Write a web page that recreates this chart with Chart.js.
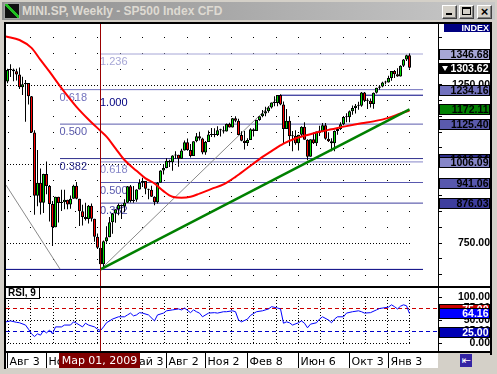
<!DOCTYPE html>
<html lang="ru">
<head>
<meta charset="utf-8">
<title>MINI.SP, Weekly - SP500 Index CFD</title>
<script src="https://cdn.jsdelivr.net/npm/chart.js@4.4.1/dist/chart.umd.min.js"></script>
<style>
  html, body { margin: 0; padding: 0; }
  body { width: 497px; height: 374px; position: relative; overflow: hidden; background: #d4d0c8; font-family: "Liberation Sans", Arial, sans-serif; }
  .abs { position: absolute; }
  .line { background: #000; }
  #caption { left: 2px; top: 2px; width: 493px; height: 18px; background: linear-gradient(90deg, #8e8e8e, #c8c8c8); }
  #caption-text { left: 20px; top: 2px; font: bold 12px "Liberation Sans", Arial, sans-serif; line-height: 15px; color: #dedad2; white-space: nowrap; }
  #icon { left: 2px; top: 1px; width: 14px; height: 14px; border: 1px solid #a0a0a0; background: linear-gradient(to top right, #101010 44%, #22c022 44%, #22c022 58%, #101010 58%); }
  .btn { top: 5px; width: 13px; height: 12px; background: #d4d0c8; border: 1px solid; border-color: #fff #404040 #404040 #fff; box-shadow: inset -1px -1px #808080; }
  #rsiTag { left: 6px; top: 288px; width: 31px; height: 10px; padding-left: 2px; background: #fff; border-right: 1px solid #000; border-bottom: 1px solid #000; font: bold 10px "Liberation Sans", Arial, sans-serif; line-height: 10px; color: #000; }
  #indexTag { left: 444px; top: 24px; width: 45px; height: 8px; padding-right: 1px; background: #000080; color: #fff; font: bold 9px "Liberation Sans", Arial, sans-serif; line-height: 8px; text-align: right; }
  #navBtn { left: 460px; top: 354px; width: 12px; height: 13px; background: #3424a4; color: #fff; font: 11px "DejaVu Sans", sans-serif; line-height: 13px; text-align: center; }
</style>
</head>
<body>
<div id="caption" class="abs">
  <div id="icon" class="abs"></div>
  <div id="caption-text" class="abs">MINI.SP, Weekly - SP500 Index CFD</div>
</div>
<div class="abs btn" style="left:442px"><div class="abs" style="left:3px;top:7px;width:6px;height:2px;background:#000"></div></div>
<div class="abs btn" style="left:459px"><div class="abs" style="left:2px;top:1px;width:7px;height:5px;border:1px solid #000;border-top-width:2px"></div></div>
<div class="abs btn" style="left:477px;font:bold 13px 'Liberation Sans',Arial,sans-serif;line-height:11px;text-align:center">&times;</div>

<div class="abs" style="left:6px;top:24px;width:484px;height:329px;background:#fff"></div>
<div class="abs" style="left:6px;top:353px;width:432px;height:15px;background:#fff"></div>

<canvas id="priceChart" class="abs" width="490" height="262" style="left:0;top:24px"></canvas>
<canvas id="rsiChart" class="abs" width="490" height="80" style="left:0;top:288px"></canvas>

<div class="abs line" style="left:4px;top:22px;width:488px;height:2px"></div>
<div class="abs line" style="left:4px;top:22px;width:2px;height:347px"></div>
<div class="abs line" style="left:490px;top:22px;width:2px;height:333px"></div>
<div class="abs line" style="left:6px;top:286px;width:484px;height:2px"></div>
<div class="abs line" style="left:6px;top:351px;width:484px;height:2px"></div>

<div id="rsiTag" class="abs">RSI, 9</div>
<div id="indexTag" class="abs">INDEX</div>
<div id="navBtn" class="abs">&#8676;</div>

<script>
// weekly bars, bar 0 = week of 3 Aug 2008, last bar = week of 20 Feb 2011
const opens = [
  1260, 1296, 1298, 1292, 1282, 1242, 1251, 1255, 1213, 1099,
  899, 940, 877, 968, 930, 873, 800, 896, 876, 879,
  887, 872, 890, 931, 890, 850, 832, 826, 868, 827,
  770, 735, 683, 756, 768, 816, 843, 857, 870, 866,
  877, 929, 883, 887, 919, 940, 946, 921, 918, 896,
  879, 940, 979, 987, 1010, 1005, 1026, 1029, 1016, 1042,
  1068, 1044, 1025, 1071, 1087, 1080, 1036, 1069, 1093, 1091,
  1091, 1106, 1106, 1102, 1126, 1115, 1144, 1136, 1091, 1073,
  1066, 1075, 1109, 1104, 1138, 1150, 1159, 1166, 1178, 1194,
  1192, 1217, 1187, 1110, 1136, 1087, 1089, 1065, 1092, 1117,
  1076, 1022, 1078, 1065, 1102, 1102, 1122, 1079, 1071, 1065,
  1104, 1110, 1125, 1148, 1147, 1166, 1176, 1183, 1183, 1225,
  1199, 1199, 1189, 1224, 1240, 1244, 1257, 1257, 1271, 1293,
  1283, 1276, 1310, 1329, 1343
];
const highs = [
  1300, 1314, 1301, 1300, 1304, 1275, 1265, 1255, 1214, 1106,
  1044, 985, 969, 1007, 933, 883, 896, 896, 918, 918,
  887, 900, 934, 943, 890, 871, 877, 870, 875, 827,
  780, 740, 758, 803, 832, 845, 857, 875, 872, 888,
  930, 933, 930, 920, 951, 956, 946, 921, 931, 898,
  943, 980, 996, 1018, 1013, 1027, 1040, 1029, 1048, 1074,
  1080, 1063, 1071, 1097, 1101, 1082, 1072, 1105, 1113, 1112,
  1119, 1111, 1119, 1127, 1130, 1145, 1150, 1142, 1103, 1104,
  1081, 1112, 1112, 1139, 1150, 1170, 1180, 1182, 1194, 1213,
  1217, 1219.8, 1197, 1173, 1150, 1104, 1106, 1092, 1119, 1131,
  1078, 1078, 1099, 1102, 1120, 1129, 1129, 1100, 1081, 1105,
  1111, 1131, 1148, 1160, 1168, 1184, 1189, 1196, 1227, 1227,
  1207, 1206, 1225, 1240, 1247, 1259, 1262, 1278, 1293, 1296,
  1302, 1311, 1331, 1344, 1346.68
];
const lows = [
  1254, 1274, 1261, 1263, 1236, 1217, 1133, 1187, 1097, 839,
  866, 840, 845, 904, 818, 741, 800, 815, 851, 857,
  857, 858, 890, 888, 804, 805, 821, 812, 818, 754,
  731, 666.79, 672, 751, 768, 779, 814, 838, 826, 847,
  876, 878, 877, 880, 919, 927, 904, 888, 895, 869,
  875, 940, 966, 986, 990, 978, 1016, 991, 1016, 1042,
  1041, 1020, 1025, 1068, 1074, 1030, 1029, 1069, 1085, 1084,
  1088, 1086, 1096, 1102, 1115, 1115, 1131, 1090, 1071, 1045,
  1056, 1075, 1086, 1104, 1136, 1147, 1150, 1161, 1175, 1182,
  1182, 1185, 1065, 1110, 1056, 1040, 1060, 1042, 1088, 1076,
  1011, 1022, 1063, 1056, 1088, 1100, 1076, 1069, 1040, 1040,
  1092, 1107, 1122, 1131, 1131, 1155, 1159, 1171, 1180, 1195,
  1173, 1178, 1174, 1222, 1234, 1242, 1251, 1257, 1262, 1271,
  1275, 1276, 1306, 1325, 1300
];
const closes = [
  1296, 1298, 1292, 1282, 1242, 1251, 1255, 1213, 1099, 899,
  940, 877, 968, 930, 873, 800, 896, 876, 879, 887,
  872, 890, 931, 890, 850, 832, 826, 868, 827, 770,
  735, 683, 756, 768, 816, 843, 857, 870, 866, 877,
  929, 883, 887, 919, 940, 946, 921, 918, 896, 879,
  940, 979, 987, 1010, 1005, 1026, 1029, 1016, 1042, 1068,
  1044, 1025, 1071, 1087, 1080, 1036, 1069, 1093, 1091, 1091,
  1106, 1106, 1102, 1126, 1115, 1144, 1136, 1091, 1073, 1066,
  1075, 1109, 1104, 1138, 1150, 1159, 1166, 1178, 1194, 1192,
  1217, 1187, 1110, 1136, 1087, 1089, 1065, 1092, 1117, 1076,
  1022, 1078, 1065, 1102, 1102, 1122, 1079, 1071, 1065, 1104,
  1110, 1125, 1148, 1147, 1166, 1176, 1183, 1183, 1225, 1199,
  1199, 1189, 1224, 1240, 1244, 1257, 1257, 1271, 1293, 1283,
  1276, 1310, 1329, 1343, 1303.62
];

// red moving average
const maBars = [-0.5, 4, 8, 11, 14, 18, 23, 27, 31, 33, 36, 39, 43, 46, 49, 52, 55, 58, 61, 64, 68, 72, 76, 80, 84, 88, 92, 96, 100, 104, 108, 113, 118, 122, 127, 131, 134];
const maValues = [1402, 1391, 1366, 1328, 1291, 1239, 1180, 1140, 1104, 1086, 1049, 1012, 978, 954, 938, 914, 896, 893, 896, 906, 921, 935, 959, 987, 1015, 1040, 1064, 1080, 1091, 1101, 1109, 1119, 1128, 1134, 1145, 1159, 1168];

// RSI(9)
const rsiBars = [-0.5, 1, 3, 4, 6, 7, 8, 9, 10, 11, 12, 13, 14, 15, 16, 18, 19, 21, 22, 23, 25, 26, 27, 29, 30, 31, 32, 33, 35, 37, 39, 40, 41, 42, 43, 44, 45, 47, 49, 50, 52, 53, 55, 57, 58, 59, 61, 62, 63, 64, 65, 67, 69, 70, 72, 73, 75, 76, 77, 78, 80, 81, 83, 85, 87, 88, 90, 91, 92, 93, 94, 95, 97, 98, 99, 100, 101, 103, 104, 105, 107, 108, 109, 110, 112, 113, 115, 117, 118, 119, 121, 123, 124, 127, 128, 129, 130, 131, 132, 133, 134];
const rsiValues = [46, 48, 45, 44, 39, 30, 20, 14, 20, 17, 27, 22, 28, 20, 35, 35, 39, 39, 46, 43, 35, 43, 39, 35, 30, 27, 35, 44, 52, 57, 57, 61, 65, 59, 61, 66, 65, 61, 48, 61, 65, 70, 72, 74, 72, 76, 66, 72, 68, 65, 57, 65, 66, 65, 68, 68, 70, 68, 50, 46, 52, 60, 68, 70, 74, 79, 76, 74, 43, 46, 44, 39, 44, 48, 43, 33, 41, 44, 52, 57, 50, 44, 52, 57, 57, 65, 68, 70, 68, 65, 66, 72, 75, 78, 83, 79, 74, 80, 83, 81, 64.16];

// trend line and fibonacci objects
const trendBars = [31, 134];
const trendValues = [666.79, 1172.11];
const fanBars = [31, 91];
const fanValues = [666.79, 1216.6];
const retraceBars = [-0.5, 17.5];
const retraceValues = [933, 668];

const fibUpNames = ['1.236', '1.000', '0.618', '0.500', '0.382'];
const fibUpLevels = [1346.68, 1216.6, 1006.09, 941.06, 876.03];
const fibUpStart = [31, 91, 31, 31, 31];
const fibDownNames = ['0.618', '0.500', '0.382'];
const fibDownLevels = [1234.16, 1125.40, 1016.64];
const fibDownStart = 17.5;
const fibEnd = 138.5;
const lowLevel = 666.79;

const priceTicks = [650, 700, 750, 800, 850, 900, 950, 1000, 1050, 1100, 1150, 1200, 1250, 1300, 1350, 1400];
const priceLabelTicks = [750, 1000, 1250];
const rsiTicks = [0, 25, 50, 75, 100];
const rsiLevels = [75, 25];

const timeLabelBars = [0, 13, 27, 40, 53, 66, 80, 97, 114, 127];
const timeLabels = ['Авг 3', 'Ноя 2', 'Фев 1', 'Май 3', 'Авг 2', 'Ноя 2', 'Фев 8', 'Июн 6', 'Окт 3', 'Янв 3'];
const cursorBar = 31;
const cursorLabel = 'Мар 01, 2009';

// look
const X_MIN = -0.5, X_MAX = 143.5;      // 3 px per weekly bar
const GRID_START = 0.23, GRID_STEP = 7.43;
const UP = '#00e000', DOWN = '#ff0000';
const fibUpColors = ['#a6a6d6', '#000080', '#8686c8', '#5858ae', '#3e3e9e'];
const fibDownColors = ['#7272be', '#5a5aac', '#2e2e8c'];
const AXIS_FONT = { family: 'Liberation Sans', size: 10.5, weight: 'bold' };
const TAG_FONT = 'bold 10.5px "Liberation Sans"';
const lastBar = closes.length - 1;

const pts = (bars, values) => bars.map((b, k) => ({ x: b, y: values[k] }));
const hline = (from, to, level) => [{ x: from, y: level }, { x: to, y: level }];
const plain = { type: 'line', pointRadius: 0, borderWidth: 1, fill: false };

function dotColumns(x, lastPx) {
  const cols = [];
  for (let k = 0; ; k++) {
    const px = Math.round(x.getPixelForValue(GRID_START + k * GRID_STEP));
    if (px > lastPx) break;
    cols.push(px);
  }
  return cols;
}

function drawTag(ctx, left, cy, fill, textColor, text, arrow) {
  const top = Math.round(cy) - 5;
  ctx.fillStyle = fill;
  ctx.fillRect(left + 1, top, 51, 11);
  ctx.strokeStyle = '#000';
  ctx.lineWidth = 1;
  ctx.strokeRect(left + 1.5, top + 0.5, 50, 10);
  ctx.fillStyle = textColor;
  ctx.font = TAG_FONT;
  ctx.textAlign = 'right';
  ctx.textBaseline = 'middle';
  ctx.fillText(text, left + 50.5, top + 6);
  if (arrow) {
    ctx.beginPath();
    ctx.moveTo(left + 4, top + 3);
    ctx.lineTo(left + 10, top + 3);
    ctx.lineTo(left + 7, top + 8);
    ctx.closePath();
    ctx.fill();
  }
}

function drawCursor(chart) {
  const { ctx, chartArea, scales: { x } } = chart;
  const px = Math.floor(x.getPixelForValue(cursorBar)) + 0.5;
  ctx.save();
  ctx.strokeStyle = '#9a0000';
  ctx.lineWidth = 1;
  ctx.beginPath();
  ctx.moveTo(px, chartArea.top);
  ctx.lineTo(px, chartArea.bottom);
  ctx.stroke();
  ctx.restore();
}

const priceDecor = {
  id: 'priceDecor',
  beforeDatasetsDraw(chart) {
    const { ctx, chartArea, scales: { x, y } } = chart;
    const lastPx = x.getPixelForValue(lastBar);
    const cols = dotColumns(x, lastPx);
    ctx.save();
    ctx.fillStyle = '#000';
    priceTicks.forEach(v => {
      const py = Math.round(y.getPixelForValue(v));
      if (priceLabelTicks.includes(v)) {
        for (let px = chartArea.left + 1; px <= lastPx + 1; px += 3) ctx.fillRect(px, py, 1, 1);
      } else {
        cols.forEach(px => ctx.fillRect(px, py, 1, 1));
      }
    });
    ctx.font = '11px "Liberation Sans"';
    ctx.textAlign = 'left';
    ctx.textBaseline = 'alphabetic';
    fibDownNames.forEach((name, k) => {
      ctx.fillStyle = fibDownColors[k];
      ctx.fillText(name, x.getPixelForValue(fibDownStart) - 0.5, Math.round(y.getPixelForValue(fibDownLevels[k])) + 11);
    });
    fibUpNames.forEach((name, k) => {
      ctx.fillStyle = fibUpColors[k];
      ctx.fillText(name, x.getPixelForValue(cursorBar) - 0.5, Math.round(y.getPixelForValue(fibUpLevels[k])) + 11);
    });
    ctx.restore();
  },
  afterDatasetsDraw(chart) {
    drawCursor(chart);
  },
  afterDraw(chart) {
    const { ctx, scales: { y } } = chart;
    const tags = [
      [fibUpLevels[0], fibUpColors[0], '#000', false],
      [closes[lastBar], '#000', '#fff', true],
      [fibDownLevels[0], fibDownColors[0], '#000', false],
      [trendValues[1], '#008000', '#000', false],
      [fibDownLevels[1], fibDownColors[1], '#000', false],
      [fibDownLevels[2], fibDownColors[2], '#000', false],
      [fibUpLevels[2], fibUpColors[2], '#000', false],
      [fibUpLevels[3], fibUpColors[3], '#000', false],
      [fibUpLevels[4], fibUpColors[4], '#000', false]
    ];
    ctx.save();
    tags.forEach(([v, fill, tc, arrow]) => drawTag(ctx, y.left, y.getPixelForValue(v), fill, tc, v.toFixed(2), arrow));
    ctx.restore();
  }
};

const rsiDecor = {
  id: 'rsiDecor',
  beforeDatasetsDraw(chart) {
    const { ctx, chartArea, scales: { x, y } } = chart;
    const lastPx = x.getPixelForValue(lastBar);
    ctx.save();
    ctx.fillStyle = '#000';
    [100, 50, 0].forEach(v => {
      const py = Math.round(y.getPixelForValue(v));
      for (let px = chartArea.left + 1; px <= lastPx + 1; px += 3) ctx.fillRect(px, py, 1, 1);
    });
    const top = Math.round(y.getPixelForValue(100));
    const bottom = Math.round(y.getPixelForValue(0));
    dotColumns(x, lastPx).forEach(px => {
      for (let py = top; py <= bottom; py += 3) ctx.fillRect(px, py, 1, 1);
    });
    ctx.restore();
  },
  afterDatasetsDraw(chart) {
    drawCursor(chart);
  },
  afterDraw(chart) {
    const { ctx, scales: { x, y } } = chart;
    ctx.save();
    drawTag(ctx, y.left, y.getPixelForValue(75), '#c80000', '#fff', '75.00', false);
    drawTag(ctx, y.left, y.getPixelForValue(25), '#0000b4', '#fff', '25.00', false);
    const last = rsiValues[rsiValues.length - 1];
    drawTag(ctx, y.left, y.getPixelForValue(last), '#0000ff', '#fff', last.toFixed(2), false);
    // cursor date box on the time axis
    const cx = Math.floor(x.getPixelForValue(cursorBar)) + 0.5;
    ctx.fillStyle = '#800000';
    ctx.fillRect(cx - 41.5, x.top + 2, 81, 15);
    ctx.fillStyle = '#fff';
    ctx.font = '11px "DejaVu Sans"';
    ctx.textAlign = 'center';
    ctx.textBaseline = 'middle';
    ctx.fillText(cursorLabel, cx - 1, x.top + 10);
    ctx.restore();
  }
};

const baseOptions = {
  responsive: false,
  animation: false,
  events: [],
  devicePixelRatio: 1,
  layout: { padding: { left: 6, right: 0, top: 0, bottom: 0 } },
  plugins: { legend: { display: false }, tooltip: { enabled: false } }
};

new Chart(document.getElementById('priceChart'), {
  type: 'bar',
  data: {
    datasets: [
      { ...plain, data: pts(trendBars, trendValues), borderColor: '#008000', borderWidth: 2.5, order: 0 },
      { ...plain, data: pts(maBars, maValues), borderColor: '#ff0000', borderWidth: 2, cubicInterpolationMode: 'monotone', order: 1 },
      {
        type: 'bar',
        data: closes.map((c, i) => ({ x: i, y: [opens[i], c] })),
        backgroundColor: closes.map((c, i) => (c >= opens[i] ? UP : DOWN)),
        borderColor: '#000', borderWidth: 1, borderSkipped: false,
        barThickness: 3, grouped: false, inflateAmount: 0, minBarLength: 1, order: 4
      },
      {
        type: 'bar',
        data: highs.map((h, i) => ({ x: i, y: [lows[i], h] })),
        backgroundColor: '#000', borderWidth: 0,
        barThickness: 1, grouped: false, inflateAmount: 0, order: 5
      },
      { ...plain, data: pts(fanBars, fanValues), borderColor: '#8a8a8a', order: 6 },
      { ...plain, data: pts(retraceBars, retraceValues), borderColor: '#8a8a8a', order: 6 },
      ...fibUpLevels.map((lv, k) => ({ ...plain, data: hline(fibUpStart[k], fibEnd, lv), borderColor: fibUpColors[k], order: 7 })),
      ...fibDownLevels.map((lv, k) => ({ ...plain, data: hline(fibDownStart, fibEnd, lv), borderColor: fibDownColors[k], order: 7 })),
      { ...plain, data: hline(X_MIN, fibEnd, lowLevel), borderColor: '#000080', order: 7 }
    ]
  },
  options: {
    ...baseOptions,
    scales: {
      x: { type: 'linear', min: X_MIN, max: X_MAX, offset: false, grid: { offset: false }, display: false },
      y: {
        type: 'linear', position: 'right', min: 614.4, max: 1441.4,
        afterBuildTicks: s => { s.ticks = priceTicks.map(value => ({ value })); },
        afterFit: s => { s.width = 52; s.paddingTop = 0; s.paddingBottom = 0; },
        grid: { drawOnChartArea: false, drawTicks: true, tickLength: 4, color: '#000' },
        border: { display: true, color: '#000', width: 1 },
        ticks: {
          color: '#000', font: AXIS_FONT, crossAlign: 'far', padding: 8, autoSkip: false,
          callback: v => (priceLabelTicks.includes(v) ? v.toFixed(2) : '')
        }
      }
    }
  },
  plugins: [priceDecor]
});

new Chart(document.getElementById('rsiChart'), {
  type: 'line',
  data: {
    datasets: [
      { ...plain, data: pts(rsiBars, rsiValues), borderColor: '#0000ff', order: 0 },
      { ...plain, data: hline(X_MIN, X_MAX, rsiLevels[0]), borderColor: '#cc0000', borderDash: [4, 3], order: 1 },
      { ...plain, data: hline(X_MIN, X_MAX, rsiLevels[1]), borderColor: '#0000cc', borderDash: [4, 3], order: 1 }
    ]
  },
  options: {
    ...baseOptions,
    scales: {
      x: {
        type: 'linear', position: 'bottom', min: X_MIN, max: X_MAX, offset: false,
        afterBuildTicks: s => { s.ticks = timeLabelBars.map(value => ({ value })); },
        afterFit: s => { s.height = 17; s.paddingLeft = 0; s.paddingRight = 0; },
        grid: { drawOnChartArea: false, drawTicks: true, tickLength: 17, color: '#000', offset: false },
        border: { display: false },
        ticks: {
          autoSkip: false, maxRotation: 0, minRotation: 0, align: 'start', labelOffset: 2, padding: -12,
          color: '#000', font: { family: 'DejaVu Sans', size: 11 },
          callback: v => { const k = timeLabelBars.indexOf(v); return k < 0 ? '' : timeLabels[k]; }
        }
      },
      y: {
        type: 'linear', position: 'right', min: -17.39, max: 119.57,
        afterBuildTicks: s => { s.ticks = rsiTicks.map(value => ({ value })); },
        afterFit: s => { s.width = 52; s.paddingTop = 0; s.paddingBottom = 0; },
        grid: { drawOnChartArea: false, drawTicks: true, tickLength: 4, color: '#000' },
        border: { display: true, color: '#000', width: 1 },
        ticks: { color: '#000', font: AXIS_FONT, crossAlign: 'far', padding: 14, autoSkip: false, callback: v => v.toFixed(2) }
      }
    }
  },
  plugins: [rsiDecor]
});
</script>
</body>
</html>
